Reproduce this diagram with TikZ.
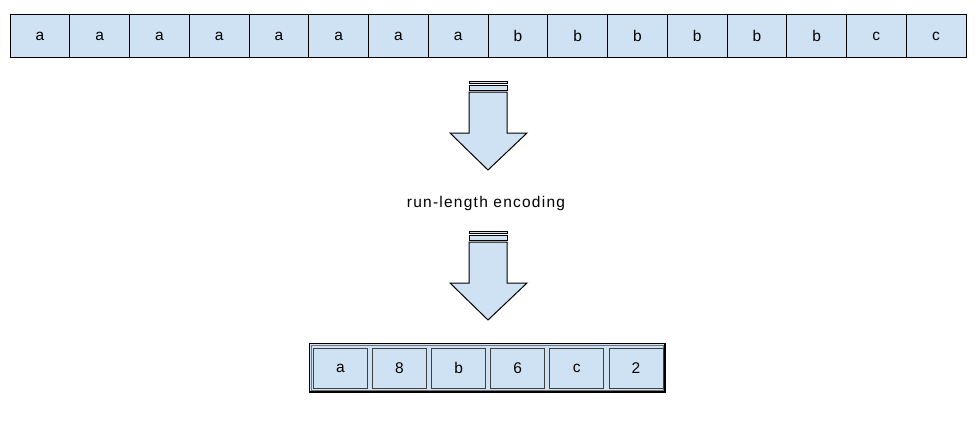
\documentclass[tikz,border=0pt]{standalone}
\usepackage{fontspec}
\setmainfont{Liberation Sans}
\begin{document}
\begin{tikzpicture}[x=1pt,y=-1pt,
  cellc/.style={draw=black, line width=0.9pt, fill=boxblue, minimum width=59.75pt, minimum height=43pt, inner sep=0pt, anchor=north west, font=\fontsize{15.5}{17}\selectfont},
  rlec/.style={draw=black!75, line width=0.8pt, fill=boxblue, minimum width=54pt, minimum height=40pt, inner sep=0pt, anchor=north west, font=\fontsize{15.5}{17}\selectfont},
  barrow/.style={draw=black, line width=1pt, fill=boxblue, line join=miter},
]
\definecolor{boxblue}{HTML}{CFE2F3}
\useasboundingbox (0,0) rectangle (978,421);
% top row
\foreach \t [count=\i from 0] in {a,a,a,a,a,a,a,a,b,b,b,b,b,b,c,c} {
  \node[cellc] (t\i) at ({9.5+59.75*\i},14) {\t};
}
% arrows
\foreach \k/\dy in {1/0,2/150} {
  \begin{scope}[yshift=-\dy pt]
    \draw[barrow] (469,81) rectangle (507,83.5);
    \draw[barrow] (469,85.5) rectangle (507,90);
    \draw[barrow] (469,92) -- (507,92) -- (507,133) -- (527,133) -- (488,170) -- (450,133) -- (469,133) -- cycle;
  \end{scope}
}
\node[font=\fontsize{15.5}{17}\selectfont\addfontfeature{LetterSpace=8}] (lbl) at (486,203) {run-length encoding};
% bottom
\draw[line width=1.3pt, fill=boxblue] (309.5,343.5) rectangle (665,392);
\draw[black!55, line width=0.6pt] (311.5,345.5) rectangle (663,390);
\foreach \t [count=\i from 0] in {a,8,b,6,c,2} {
  \node[rlec] (r\i) at ({313+59.1*\i},348) {\t};
}
\end{tikzpicture}
\end{document}
